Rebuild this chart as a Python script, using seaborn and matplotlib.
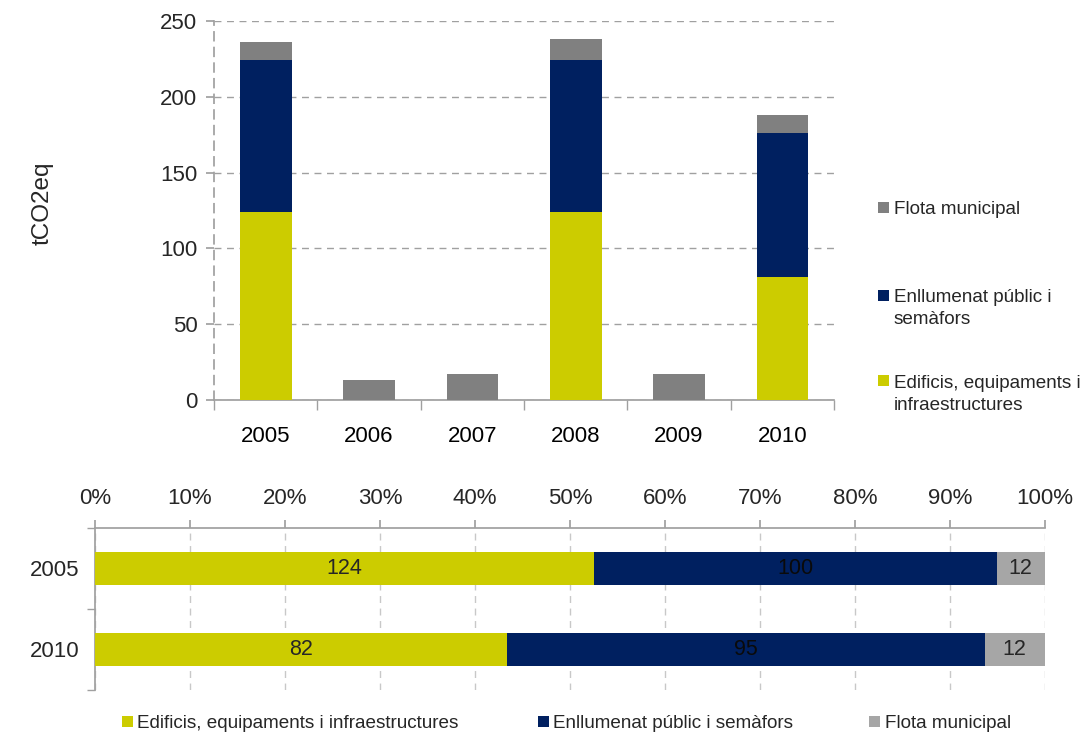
import matplotlib
matplotlib.use("Agg")
import matplotlib.pyplot as plt
from matplotlib.patches import Rectangle
import seaborn as sns
import numpy as np
import pandas as pd

# data
years = ["2005", "2006", "2007", "2008", "2009", "2010"]
edificis = [124, 0, 0, 124, 0, 81]
enllumenat = [100, 0, 0, 100, 0, 95]
flota = [12, 13, 17, 14, 17, 12]

comp_years = ["2005", "2010"]
comp_edificis = [124, 82]
comp_enllumenat = [100, 95]
comp_flota = [12, 12]

series_names = ["Edificis, equipaments i infraestructures",
                "Enllumenat públic i semàfors",
                "Flota municipal"]
col_edif = "#CCCC00"
col_enll = "#002060"
col_flota = "#808080"
col_flota2 = "#A6A6A6"
grid_col = "#A0A0A0"

W, H = 1088, 733

sns.set_theme(style="white")
plt.rcParams["font.family"] = ["Liberation Sans", "DejaVu Sans"]

fig = plt.figure(figsize=(W / 100, H / 100), dpi=100)
ax1 = fig.add_axes([0.1967, 0.4543, 0.5699, 0.517])
ax2 = fig.add_axes([0.0873, 0.0587, 0.873, 0.221])

bar_kw = dict(saturation=1, linewidth=0, edgecolor="none", zorder=3)

# ---- top stacked chart (draw cumulative totals, largest first)
top_df = pd.DataFrame({"year": years,
                       "edif": edificis,
                       "enll": enllumenat,
                       "flota": flota})
top_df["s2"] = top_df["edif"] + top_df["enll"]
top_df["s3"] = top_df["s2"] + top_df["flota"]

sns.barplot(data=top_df, x="year", y="s3", color=col_flota, width=0.5,
            ax=ax1, **bar_kw)
sns.barplot(data=top_df, x="year", y="s2", color=col_enll, width=0.5,
            ax=ax1, **bar_kw)
sns.barplot(data=top_df, x="year", y="edif", color=col_edif, width=0.5,
            ax=ax1, **bar_kw)

ax1.set_ylim(0, 250)
ax1.set_xlim(-0.5, 5.5)
ax1.set_yticks(np.arange(0, 251, 50))
ax1.set_xlabel("")
ax1.set_ylabel("")
ax1.yaxis.grid(True, linestyle=(0, (5, 4)), color=grid_col, linewidth=1)
ax1.xaxis.grid(False)
for s in ["top", "right"]:
    ax1.spines[s].set_visible(False)
ax1.spines["bottom"].set_color(grid_col)
ax1.spines["left"].set_color(grid_col)
ax1.spines["left"].set_linestyle((0, (5, 4)))
ax1.set_xticks(np.arange(-0.5, 6, 1), minor=True)
ax1.tick_params(axis="x", which="major", length=0, labelsize=16, pad=19,
                colors="black")
ax1.tick_params(axis="x", which="minor", length=7, color=grid_col,
                direction="out", bottom=True)
ax1.tick_params(axis="y", which="major", length=6, color=grid_col,
                direction="out", left=True, labelsize=16, pad=6)

fig.text(43 / W, 1 - 203 / H, "tCO2eq", rotation=90, fontsize=17.5,
         ha="center", va="center")


def legend_item(x, y, color, lines, fs=13.6, gap=16, size=11, lh=22):
    # x, y in pixels from top-left; y is the square's centre
    fig.patches.append(Rectangle((x / W, 1 - (y + size / 2) / H), size / W,
                                 size / H, transform=fig.transFigure,
                                 facecolor=color, edgecolor="none"))
    for k, line in enumerate(lines):
        fig.text((x + gap) / W, 1 - (y + 6.5 + k * lh) / H, line,
                 fontsize=fs, va="baseline", ha="left")


legend_item(878, 207.5, col_flota, ["Flota municipal"])
legend_item(878, 295, col_enll, ["Enllumenat públic i", "semàfors"])
legend_item(878, 381, col_edif, ["Edificis, equipaments i", "infraestructures"])

# ---- bottom 100% stacked chart
comp_df = pd.DataFrame({"year": comp_years,
                        "edif": comp_edificis,
                        "enll": comp_enllumenat,
                        "flota": comp_flota})
tot = comp_df["edif"] + comp_df["enll"] + comp_df["flota"]
comp_df["p1"] = comp_df["edif"] / tot * 100
comp_df["p2"] = (comp_df["edif"] + comp_df["enll"]) / tot * 100
comp_df["p3"] = 100.0

sns.barplot(data=comp_df, x="p3", y="year", orient="h", color=col_flota2,
            width=0.4, ax=ax2, **bar_kw)
sns.barplot(data=comp_df, x="p2", y="year", orient="h", color=col_enll,
            width=0.4, ax=ax2, **bar_kw)
sns.barplot(data=comp_df, x="p1", y="year", orient="h", color=col_edif,
            width=0.4, ax=ax2, **bar_kw)

for i, row in comp_df.iterrows():
    ax2.text(row["p1"] / 2, i, f"{row['edif']}", ha="center", va="center",
             fontsize=15.5, zorder=5)
    ax2.text((row["p1"] + row["p2"]) / 2, i, f"{row['enll']}", ha="center",
             va="center", fontsize=15.5, color="#0a0a0a", zorder=5)
    ax2.text((row["p2"] + 100) / 2, i, f"{row['flota']}", ha="center",
             va="center", fontsize=15.5, zorder=5)

ax2.set_xlim(0, 100)
ax2.set_ylim(1.5, -0.5)
ax2.set_xticks(np.arange(0, 101, 10))
ax2.set_xticklabels([f"{v}%" for v in range(0, 101, 10)])
ax2.set_xlabel("")
ax2.set_ylabel("")
ax2.xaxis.tick_top()
ax2.xaxis.grid(True, linestyle=(0, (5, 4)), color="#C8C8C8", linewidth=1)
ax2.yaxis.grid(False)
for s in ["bottom", "right"]:
    ax2.spines[s].set_visible(False)
ax2.spines["top"].set_color(grid_col)
ax2.spines["left"].set_color(grid_col)
ax2.tick_params(axis="x", which="major", length=6, color=grid_col,
                direction="out", top=True, labelsize=16, pad=8)
ax2.set_yticks(np.arange(-0.5, 2, 1), minor=True)
ax2.tick_params(axis="y", which="major", length=0, labelsize=16, pad=11)
ax2.tick_params(axis="y", which="minor", length=6, color=grid_col,
                direction="out", left=True)

legend_item(122, 721, col_edif, [series_names[0]], gap=15)
legend_item(538, 721, col_enll, [series_names[1]], gap=15)
legend_item(869, 721, col_flota2, [series_names[2]], gap=16)

fig.savefig("out.png", dpi=100)
